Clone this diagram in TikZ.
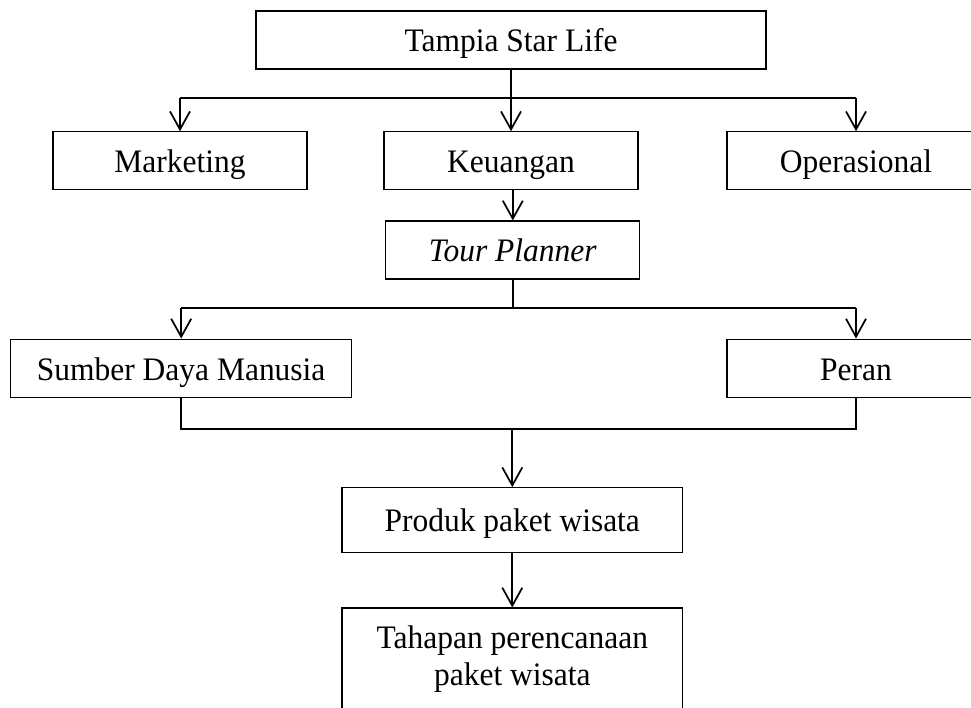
\documentclass[tikz,border=0pt]{standalone}
\usepackage{fontspec}
\setmainfont[FakeStretch=0.96]{Liberation Serif}
\usetikzlibrary{arrows.meta}
\begin{document}
\begin{tikzpicture}[x=0.75pt,y=-0.75pt,
  basebox/.style={draw,line width=0.8pt,inner sep=0pt,align=center,
    font=\fontsize{24.6}{27.75}\selectfont},
  box/.style={basebox,text height=17.6pt,text depth=0pt},
  conn/.style={line width=1.3pt},
  arr/.style={line width=1.3pt,-{Straight Barb[length=13.5pt,width=15pt,line width=1.3pt]}}]
\clip (0,0) rectangle (971,707);
\fill[white] (0,0) rectangle (971,707);
\node[box,minimum width=382.5pt,minimum height=43.5pt] (top) at (511,40) {Tampia Star Life};
\node[box,minimum width=190.5pt,minimum height=43pt] (mkt) at (180,160.4) {Marketing};
\node[box,minimum width=190.5pt,minimum height=43pt] (keu) at (511,160.4) {Keuangan};
\node[box,minimum width=193.5pt,minimum height=43pt] (ops) at (856,160.4) {Operasional};
\node[box,minimum width=190.5pt,minimum height=43.5pt] (tour) at (512.8,250) {\itshape Tour Planner};
\node[box,minimum width=255.75pt,minimum height=44pt] (sdm) at (181.2,368.4) {Sumber Daya Manusia};
\node[box,minimum width=193.5pt,minimum height=44pt] (peran) at (856,368.4) {Peran};
\node[box,minimum width=255.5pt,minimum height=48.75pt] (prod) at (512.3,520.2) {Produk paket wisata};
\node[basebox,minimum width=255.5pt,minimum height=76.5pt] (tah) at (512.3,659) {Tahapan perencanaan\\paket wisata};
% level 1
\coordinate (b1) at (511,98);
\draw[conn] (b1 -| mkt.north) -- (b1 -| ops.north);
\draw[arr] (top.south) -- (keu.north);
\draw[arr] (b1 -| mkt.north) -- (mkt.north);
\draw[arr] (b1 -| ops.north) -- (ops.north);
% keuangan -> tour
\draw[arr] (keu.south -| tour.north) -- (tour.north);
% level 2
\coordinate (b2) at (512,308);
\draw[conn] (tour.south) -- (tour.south |- b2);
\draw[conn] (b2 -| sdm.north) -- (b2 -| peran.north);
\draw[arr] (b2 -| sdm.north) -- (sdm.north);
\draw[arr] (b2 -| peran.north) -- (peran.north);
% merge
\coordinate (b3) at (511,429);
\draw[conn] (sdm.south) -- (b3 -| sdm.south) -- (b3 -| peran.south) -- (peran.south);
\draw[arr] (b3 -| prod.north) -- (prod.north);
\draw[arr] (prod.south) -- (tah.north);
\end{tikzpicture}
\end{document}
